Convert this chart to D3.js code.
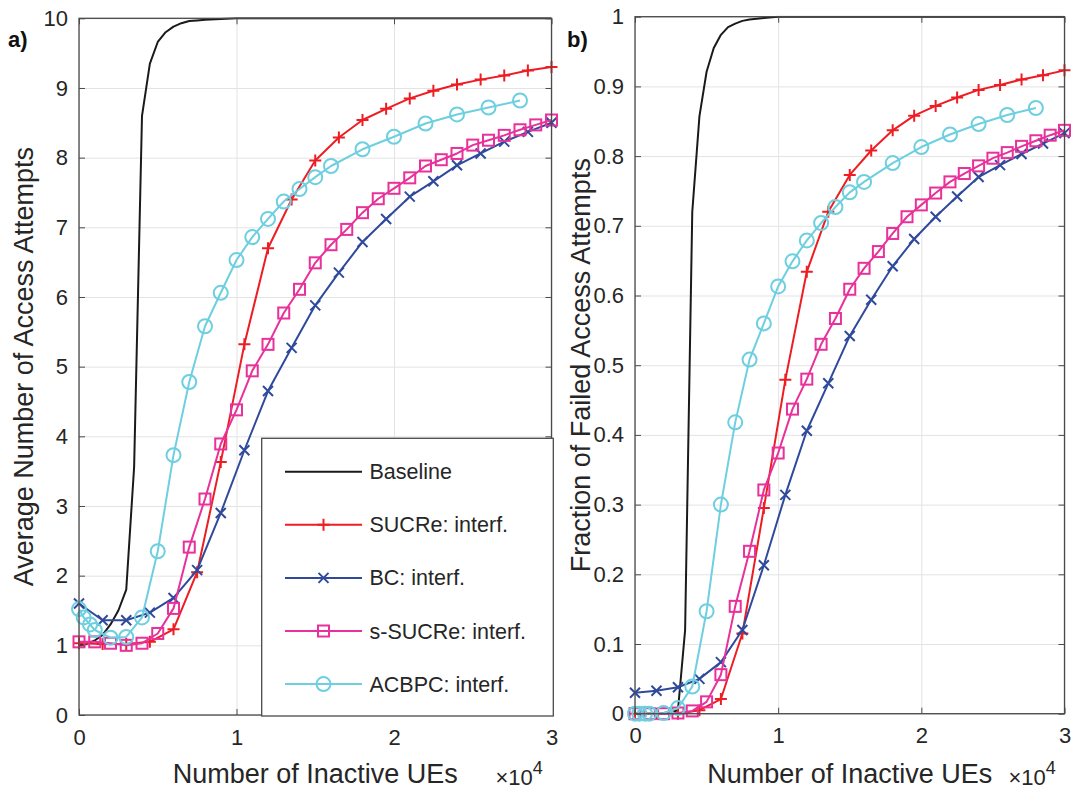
<html>
<head>
<meta charset="utf-8">
<title>Access attempts vs inactive UEs</title>
<script src="https://d3js.org/d3.v7.min.js"></script>
<style>
body { margin: 0; padding: 0; background: white; }
svg { font-family: 'Liberation Sans', Arial, Helvetica, sans-serif; }
.tick text { fill: #262626; }
</style>
</head>
<body>
<svg id="chart" width="1075" height="794"></svg>
<script>
// ---- data (x in number of inactive UEs) ----
var xBaseline = [0, 500, 1000, 1500, 2000, 2500, 3000, 3500, 4000, 4500, 5000, 5500, 6000, 6500, 7000, 7500, 8000, 9000, 10000, 12000, 15000, 20000, 25000, 30000];
var x150 = [0, 1500, 3000, 4500, 6000, 7500, 9000, 10500, 12000, 13500, 15000, 16500, 18000, 19500, 21000, 22500, 24000, 25500, 27000, 28500, 30000];
var x100 = [0, 1000, 2000, 3000, 4000, 5000, 6000, 7000, 8000, 9000, 10000, 11000, 12000, 13000, 14000, 15000, 16000, 17000, 18000, 19000, 20000, 21000, 22000, 23000, 24000, 25000, 26000, 27000, 28000, 29000, 30000];
var xACBPC = [0, 300, 700, 1000, 2000, 3000, 4000, 5000, 6000, 7000, 8000, 9000, 10000, 11000, 12000, 13000, 14000, 15000, 16000, 18000, 20000, 22000, 24000, 26000, 28000];

// a) average number of access attempts
var attBaseline = [1.0, 1.02, 1.07, 1.15, 1.3, 1.5, 1.8, 3.56, 8.6, 9.35, 9.66, 9.8, 9.88, 9.93, 9.96, 9.97, 9.98, 9.99, 10, 10, 10, 10, 10, 10];
var attSUCRe = [1.03, 1.02, 1.02, 1.05, 1.23, 2.05, 3.63, 5.32, 6.70, 7.40, 7.96, 8.29, 8.54, 8.70, 8.85, 8.96, 9.05, 9.12, 9.18, 9.25, 9.30];
var attBC = [1.6, 1.36, 1.36, 1.47, 1.68, 2.08, 2.9, 3.8, 4.65, 5.27, 5.88, 6.35, 6.79, 7.12, 7.44, 7.66, 7.89, 8.06, 8.23, 8.37, 8.5];
var attSSUCRe = [1.05, 1.05, 1.03, 1.0, 1.03, 1.17, 1.53, 2.41, 3.10, 3.89, 4.38, 4.94, 5.32, 5.77, 6.11, 6.49, 6.75, 6.97, 7.21, 7.41, 7.56, 7.71, 7.88, 7.97, 8.06, 8.18, 8.25, 8.32, 8.40, 8.47, 8.54];
var attACBPC = [1.52, 1.4, 1.3, 1.22, 1.11, 1.12, 1.4, 2.35, 3.73, 4.78, 5.58, 6.06, 6.53, 6.86, 7.12, 7.37, 7.55, 7.72, 7.88, 8.12, 8.30, 8.49, 8.62, 8.72, 8.82];

// b) fraction of failed access attempts
var failBaseline = [0, 0, 0, 0, 0.001, 0.002, 0.005, 0.12, 0.72, 0.857, 0.921, 0.955, 0.974, 0.985, 0.99, 0.994, 0.996, 0.998, 1, 1, 1, 1, 1, 1];
var failSUCRe = [0, 0, 0, 0.005, 0.021, 0.115, 0.295, 0.479, 0.634, 0.72, 0.773, 0.808, 0.837, 0.858, 0.872, 0.884, 0.895, 0.902, 0.910, 0.916, 0.923];
var failBC = [0.03, 0.033, 0.038, 0.05, 0.074, 0.12, 0.213, 0.314, 0.406, 0.474, 0.542, 0.594, 0.642, 0.681, 0.713, 0.742, 0.770, 0.787, 0.803, 0.818, 0.833];
var failSSUCRe = [0, 0, 0, 0.001, 0.004, 0.017, 0.056, 0.154, 0.233, 0.321, 0.374, 0.437, 0.48, 0.530, 0.567, 0.609, 0.639, 0.663, 0.689, 0.713, 0.730, 0.747, 0.763, 0.775, 0.786, 0.797, 0.805, 0.814, 0.822, 0.830, 0.837];
var failACBPC = [0, 0, 0, 0, 0.001, 0.008, 0.039, 0.147, 0.30, 0.418, 0.508, 0.560, 0.613, 0.649, 0.679, 0.704, 0.727, 0.748, 0.763, 0.790, 0.813, 0.831, 0.846, 0.859, 0.869];

var seriesNames = ["Baseline", "SUCRe: interf.", "BC: interf.", "s-SUCRe: interf.", "ACBPC: interf."];
var seriesColors = ["#1a1a1a", "#ee1d24", "#2f4a9c", "#e8319a", "#6dcfdf"];
var seriesMarkers = ["none", "plus", "cross", "square", "circle"];
var xTicks = [0, 10000, 20000, 30000];
var attTicks = [0, 1, 2, 3, 4, 5, 6, 7, 8, 9, 10];
var failTicks = [0, 0.1, 0.2, 0.3, 0.4, 0.5, 0.6, 0.7, 0.8, 0.9, 1];

var svg = d3.select("#chart");
var textColor = "#262626";

function drawMarker(g, type, x, y, color) {
    if (type == "plus") {
        g.append("path").attr("d", "M" + (x - 6) + "," + y + "H" + (x + 6) + "M" + x + "," + (y - 6) + "V" + (y + 6))
            .attr("stroke", color).attr("stroke-width", 2).attr("fill", "none");
    } else if (type == "cross") {
        g.append("path").attr("d", "M" + (x - 5) + "," + (y - 5) + "L" + (x + 5) + "," + (y + 5) + "M" + (x - 5) + "," + (y + 5) + "L" + (x + 5) + "," + (y - 5))
            .attr("stroke", color).attr("stroke-width", 2).attr("fill", "none");
    } else if (type == "square") {
        g.append("rect").attr("x", x - 5.5).attr("y", y - 5.5).attr("width", 11).attr("height", 11)
            .attr("stroke", color).attr("stroke-width", 2).attr("fill", "none");
    } else if (type == "circle") {
        g.append("circle").attr("cx", x).attr("cy", y).attr("r", 7)
            .attr("stroke", color).attr("stroke-width", 2).attr("fill", "none");
    }
}

function drawPanel(p) {
    var x = d3.scaleLinear().domain([0, 30000]).range([p.left, p.right]);
    var y = d3.scaleLinear().domain(p.yDomain).range([p.bottom, p.top]);
    var w = p.right - p.left, h = p.bottom - p.top;

    // grid
    svg.append("g").attr("transform", "translate(0," + p.bottom + ")")
        .call(d3.axisBottom(x).tickValues(xTicks).tickSize(-h).tickFormat(""))
        .call(function(g) { g.select(".domain").remove(); g.selectAll("line").attr("stroke", "#e3e3e3"); });
    svg.append("g").attr("transform", "translate(" + p.left + ",0)")
        .call(d3.axisLeft(y).tickValues(p.yTicks).tickSize(-w).tickFormat(""))
        .call(function(g) { g.select(".domain").remove(); g.selectAll("line").attr("stroke", "#e3e3e3"); });

    var clipId = "clip-" + p.id;
    svg.append("clipPath").attr("id", clipId).append("rect")
        .attr("x", p.left).attr("y", p.top - 1).attr("width", w).attr("height", h + 2);

    var line = d3.line().x(function(d) { return x(d[0]); }).y(function(d) { return y(d[1]); });
    p.series.forEach(function(s, i) {
        var pts = s.xs.map(function(v, k) { return [v, s.ys[k]]; });
        svg.append("path").datum(pts).attr("d", line).attr("clip-path", "url(#" + clipId + ")")
            .attr("fill", "none").attr("stroke", seriesColors[i]).attr("stroke-width", 2)
            .attr("stroke-linejoin", "round");
        var mg = svg.append("g");
        pts.forEach(function(d) { drawMarker(mg, seriesMarkers[i], x(d[0]), y(d[1]), seriesColors[i]); });
    });

    // axes with inward ticks on all sides
    var axColor = "#4a4a4a";
    function style(g) {
        g.select(".domain").remove();
        g.selectAll("line").attr("stroke", axColor);
        g.selectAll("text").attr("font-size", 22).attr("fill", textColor).attr("font-family", "'Liberation Sans', Arial, sans-serif");
    }
    svg.append("g").attr("transform", "translate(0," + p.bottom + ")")
        .call(d3.axisBottom(x).tickValues(xTicks).tickSize(-6).tickPadding(14).tickFormat(function(d) { return d / 10000; }))
        .call(style);
    svg.append("g").attr("transform", "translate(0," + p.top + ")")
        .call(d3.axisTop(x).tickValues(xTicks).tickSize(-6).tickFormat("")).call(style);
    svg.append("g").attr("transform", "translate(" + p.left + ",0)")
        .call(d3.axisLeft(y).tickValues(p.yTicks).tickSize(-6).tickPadding(11).tickFormat(p.yFormat))
        .call(style);
    svg.append("g").attr("transform", "translate(" + p.right + ",0)")
        .call(d3.axisRight(y).tickValues(p.yTicks).tickSize(-6).tickFormat("")).call(style);
    svg.append("rect").attr("x", p.left).attr("y", p.top).attr("width", w).attr("height", h)
        .attr("fill", "none").attr("stroke", axColor).attr("stroke-width", 1.3);

    // labels
    svg.append("text").attr("x", (p.left + p.right) / 2).attr("y", 783).attr("text-anchor", "middle")
        .attr("font-size", 27).attr("fill", textColor).text("Number of Inactive UEs");
    var ex = svg.append("text").attr("x", p.right - 56).attr("y", 785).attr("font-size", 22).attr("fill", textColor);
    ex.append("tspan").text("\u00d710");
    ex.append("tspan").attr("dy", -11).attr("font-size", 18).text("4");
    svg.append("text").attr("transform", "translate(" + p.yLabelX + "," + ((p.top + p.bottom) / 2) + ") rotate(-90)")
        .attr("text-anchor", "middle").attr("font-size", 27).attr("fill", textColor).text(p.yLabel);
    svg.append("text").attr("x", p.tagX).attr("y", 47).attr("font-size", 22).attr("font-weight", "bold")
        .attr("fill", "#111").text(p.tag);

    return { x: x, y: y };
}

drawPanel({
    id: "a", left: 79, right: 551.5, top: 18.3, bottom: 715, yDomain: [0, 10], yTicks: attTicks,
    yFormat: function(d) { return d; }, yLabel: "Average Number of Access Attempts", yLabelX: 33, tag: "a)", tagX: 8,
    series: [
        { xs: xBaseline, ys: attBaseline }, { xs: x150, ys: attSUCRe }, { xs: x150, ys: attBC },
        { xs: x100, ys: attSSUCRe }, { xs: xACBPC, ys: attACBPC }
    ]
});

drawPanel({
    id: "b", left: 635, right: 1064.5, top: 16.7, bottom: 713.7, yDomain: [0, 1], yTicks: failTicks,
    yFormat: function(d) { return d; }, yLabel: "Fraction of Failed Access Attempts", yLabelX: 590, tag: "b)", tagX: 567,
    series: [
        { xs: xBaseline, ys: failBaseline }, { xs: x150, ys: failSUCRe }, { xs: x150, ys: failBC },
        { xs: x100, ys: failSSUCRe }, { xs: xACBPC, ys: failACBPC }
    ]
});

// legend (inside panel a)
var lg = svg.append("g");
lg.append("rect").attr("x", 261.7).attr("y", 438.3).attr("width", 291.6).attr("height", 277.7)
    .attr("fill", "white").attr("stroke", "#4a4a4a").attr("stroke-width", 1.3);
seriesNames.forEach(function(name, i) {
    var yy = 471.7 + i * 53.1;
    lg.append("line").attr("x1", 285).attr("x2", 362).attr("y1", yy).attr("y2", yy)
        .attr("stroke", seriesColors[i]).attr("stroke-width", 2);
    drawMarker(lg, seriesMarkers[i], 323.5, yy, seriesColors[i]);
    lg.append("text").attr("x", 369.5).attr("y", yy + 7.5).attr("font-size", 21.5).attr("fill", textColor).text(name);
});
</script>
</body>
</html>
